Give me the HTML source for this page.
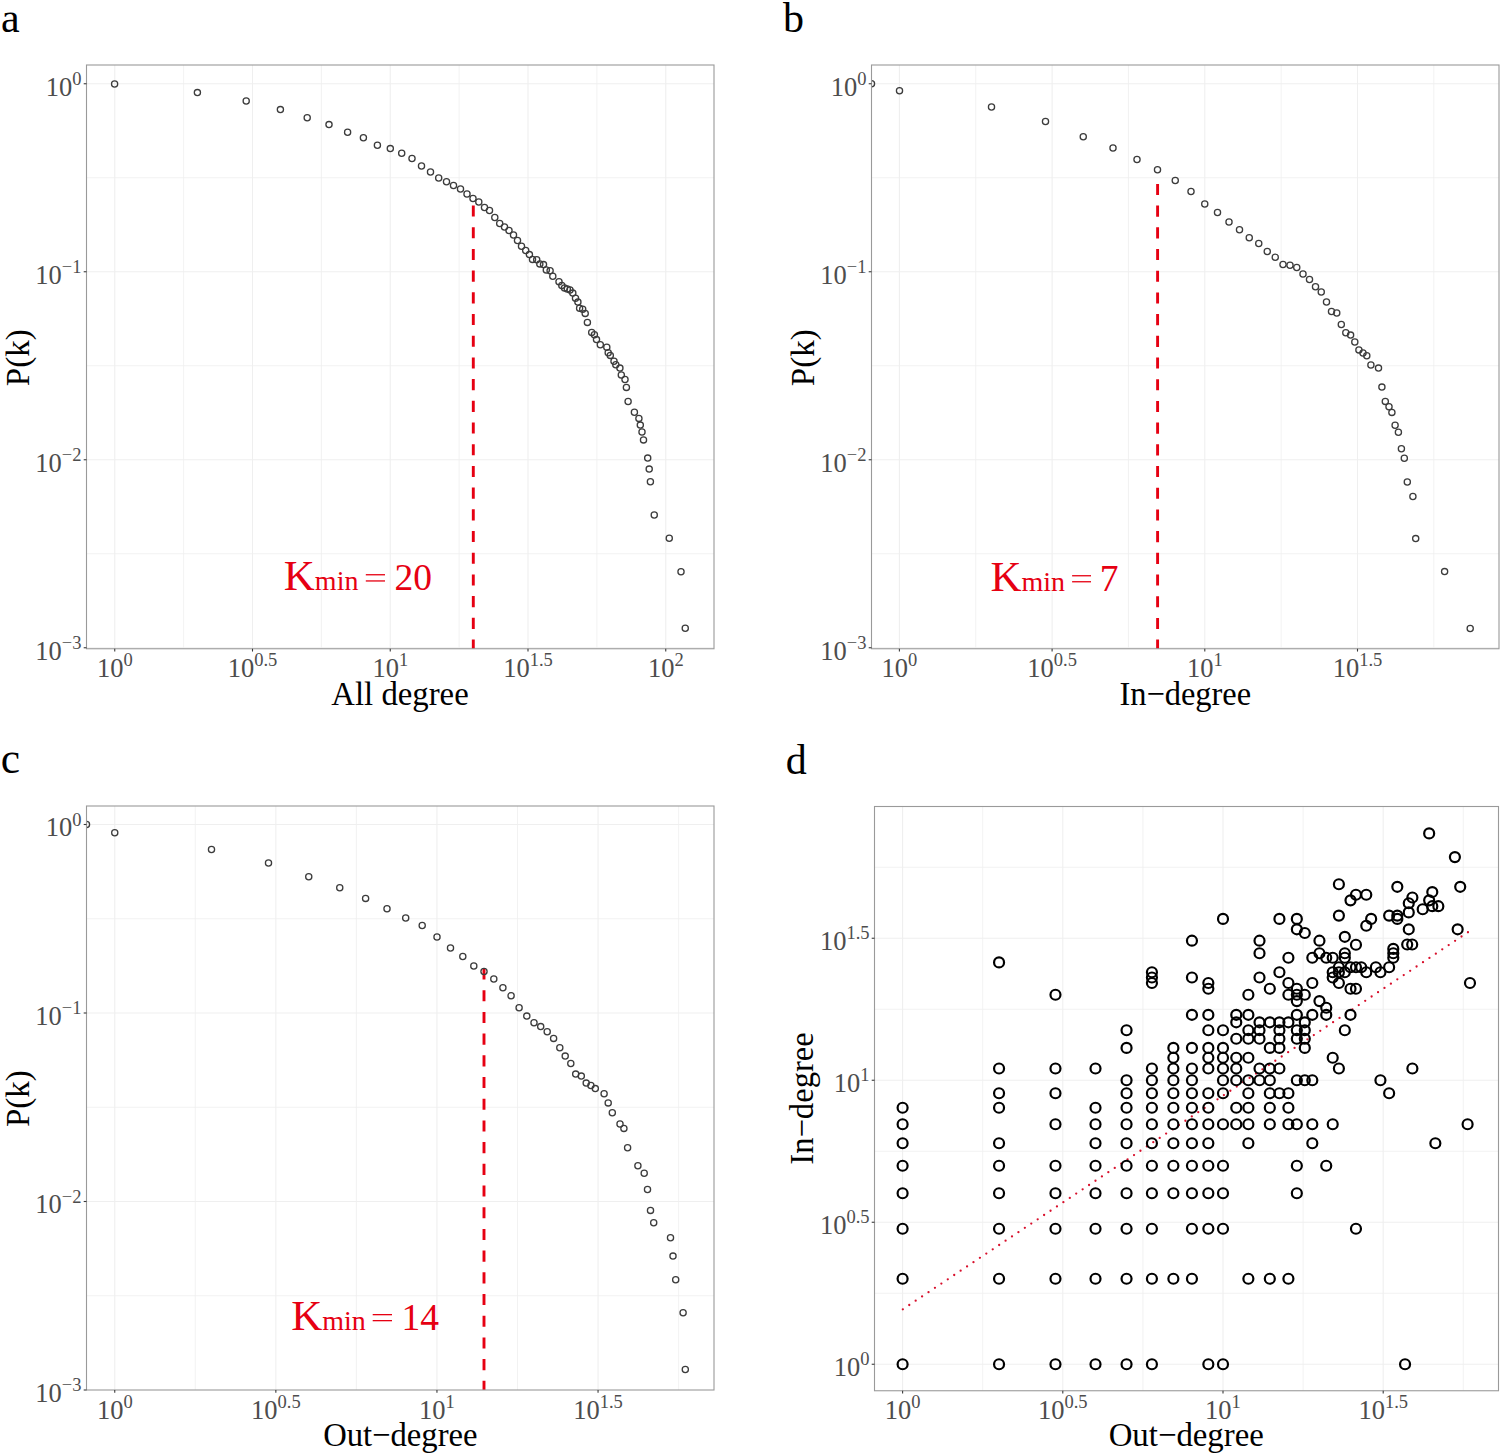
<!DOCTYPE html>
<html><head><meta charset="utf-8"><style>html,body{margin:0;padding:0;background:#fff;}svg{display:block;}</style></head><body>
<svg width="1500" height="1454" viewBox="0 0 1500 1454" font-family='"Liberation Serif", serif'>
<rect width="1500" height="1454" fill="#fff"/>
<clipPath id="ca"><rect x="86.5" y="65" width="627.5" height="583.75"/></clipPath>
<line x1="86.5" x2="714" y1="177.75" y2="177.75" stroke="#efefef" stroke-width="0.8"/>
<line x1="86.5" x2="714" y1="365.75" y2="365.75" stroke="#efefef" stroke-width="0.8"/>
<line x1="86.5" x2="714" y1="553.75" y2="553.75" stroke="#efefef" stroke-width="0.8"/>
<line y1="65" y2="648.75" x1="183.62" x2="183.62" stroke="#efefef" stroke-width="0.8"/>
<line y1="65" y2="648.75" x1="321.38" x2="321.38" stroke="#efefef" stroke-width="0.8"/>
<line y1="65" y2="648.75" x1="459.12" x2="459.12" stroke="#efefef" stroke-width="0.8"/>
<line y1="65" y2="648.75" x1="596.88" x2="596.88" stroke="#efefef" stroke-width="0.8"/>
<line x1="86.5" x2="714" y1="83.75" y2="83.75" stroke="#efefef" stroke-width="1.1"/>
<line x1="86.5" x2="714" y1="271.75" y2="271.75" stroke="#efefef" stroke-width="1.1"/>
<line x1="86.5" x2="714" y1="459.75" y2="459.75" stroke="#efefef" stroke-width="1.1"/>
<line x1="86.5" x2="714" y1="647.75" y2="647.75" stroke="#efefef" stroke-width="1.1"/>
<line y1="65" y2="648.75" x1="114.75" x2="114.75" stroke="#efefef" stroke-width="1.1"/>
<line y1="65" y2="648.75" x1="252.5" x2="252.5" stroke="#efefef" stroke-width="1.1"/>
<line y1="65" y2="648.75" x1="390.25" x2="390.25" stroke="#efefef" stroke-width="1.1"/>
<line y1="65" y2="648.75" x1="528" x2="528" stroke="#efefef" stroke-width="1.1"/>
<line y1="65" y2="648.75" x1="665.75" x2="665.75" stroke="#efefef" stroke-width="1.1"/>
<clipPath id="cb"><rect x="871.5" y="65" width="627.5" height="583.75"/></clipPath>
<line x1="871.5" x2="1499" y1="177.75" y2="177.75" stroke="#efefef" stroke-width="0.8"/>
<line x1="871.5" x2="1499" y1="365.75" y2="365.75" stroke="#efefef" stroke-width="0.8"/>
<line x1="871.5" x2="1499" y1="553.75" y2="553.75" stroke="#efefef" stroke-width="0.8"/>
<line y1="65" y2="648.75" x1="975.75" x2="975.75" stroke="#efefef" stroke-width="0.8"/>
<line y1="65" y2="648.75" x1="1128.45" x2="1128.45" stroke="#efefef" stroke-width="0.8"/>
<line y1="65" y2="648.75" x1="1281.15" x2="1281.15" stroke="#efefef" stroke-width="0.8"/>
<line y1="65" y2="648.75" x1="1433.85" x2="1433.85" stroke="#efefef" stroke-width="0.8"/>
<line x1="871.5" x2="1499" y1="83.75" y2="83.75" stroke="#efefef" stroke-width="1.1"/>
<line x1="871.5" x2="1499" y1="271.75" y2="271.75" stroke="#efefef" stroke-width="1.1"/>
<line x1="871.5" x2="1499" y1="459.75" y2="459.75" stroke="#efefef" stroke-width="1.1"/>
<line x1="871.5" x2="1499" y1="647.75" y2="647.75" stroke="#efefef" stroke-width="1.1"/>
<line y1="65" y2="648.75" x1="899.4" x2="899.4" stroke="#efefef" stroke-width="1.1"/>
<line y1="65" y2="648.75" x1="1052.1" x2="1052.1" stroke="#efefef" stroke-width="1.1"/>
<line y1="65" y2="648.75" x1="1204.8" x2="1204.8" stroke="#efefef" stroke-width="1.1"/>
<line y1="65" y2="648.75" x1="1357.5" x2="1357.5" stroke="#efefef" stroke-width="1.1"/>
<clipPath id="cc"><rect x="86.5" y="806" width="627.5" height="584"/></clipPath>
<line x1="86.5" x2="714" y1="918.75" y2="918.75" stroke="#efefef" stroke-width="0.8"/>
<line x1="86.5" x2="714" y1="1107.25" y2="1107.25" stroke="#efefef" stroke-width="0.8"/>
<line x1="86.5" x2="714" y1="1295.75" y2="1295.75" stroke="#efefef" stroke-width="0.8"/>
<line y1="806" y2="1390" x1="195.3" x2="195.3" stroke="#efefef" stroke-width="0.8"/>
<line y1="806" y2="1390" x1="356.4" x2="356.4" stroke="#efefef" stroke-width="0.8"/>
<line y1="806" y2="1390" x1="517.5" x2="517.5" stroke="#efefef" stroke-width="0.8"/>
<line y1="806" y2="1390" x1="678.6" x2="678.6" stroke="#efefef" stroke-width="0.8"/>
<line x1="86.5" x2="714" y1="824.5" y2="824.5" stroke="#efefef" stroke-width="1.1"/>
<line x1="86.5" x2="714" y1="1013" y2="1013" stroke="#efefef" stroke-width="1.1"/>
<line x1="86.5" x2="714" y1="1201.5" y2="1201.5" stroke="#efefef" stroke-width="1.1"/>
<line y1="806" y2="1390" x1="114.75" x2="114.75" stroke="#efefef" stroke-width="1.1"/>
<line y1="806" y2="1390" x1="275.85" x2="275.85" stroke="#efefef" stroke-width="1.1"/>
<line y1="806" y2="1390" x1="436.95" x2="436.95" stroke="#efefef" stroke-width="1.1"/>
<line y1="806" y2="1390" x1="598.05" x2="598.05" stroke="#efefef" stroke-width="1.1"/>
<clipPath id="cd"><rect x="874.5" y="806.5" width="624" height="584.25"/></clipPath>
<line x1="874.5" x2="1498.5" y1="1293.25" y2="1293.25" stroke="#efefef" stroke-width="0.8"/>
<line x1="874.5" x2="1498.5" y1="1151.25" y2="1151.25" stroke="#efefef" stroke-width="0.8"/>
<line x1="874.5" x2="1498.5" y1="1009.25" y2="1009.25" stroke="#efefef" stroke-width="0.8"/>
<line x1="874.5" x2="1498.5" y1="867.25" y2="867.25" stroke="#efefef" stroke-width="0.8"/>
<line y1="806.5" y2="1390.75" x1="982.7" x2="982.7" stroke="#efefef" stroke-width="0.8"/>
<line y1="806.5" y2="1390.75" x1="1142.9" x2="1142.9" stroke="#efefef" stroke-width="0.8"/>
<line y1="806.5" y2="1390.75" x1="1303.1" x2="1303.1" stroke="#efefef" stroke-width="0.8"/>
<line y1="806.5" y2="1390.75" x1="1463.3" x2="1463.3" stroke="#efefef" stroke-width="0.8"/>
<line x1="874.5" x2="1498.5" y1="1364.25" y2="1364.25" stroke="#efefef" stroke-width="1.1"/>
<line x1="874.5" x2="1498.5" y1="1222.25" y2="1222.25" stroke="#efefef" stroke-width="1.1"/>
<line x1="874.5" x2="1498.5" y1="1080.25" y2="1080.25" stroke="#efefef" stroke-width="1.1"/>
<line x1="874.5" x2="1498.5" y1="938.25" y2="938.25" stroke="#efefef" stroke-width="1.1"/>
<line y1="806.5" y2="1390.75" x1="902.6" x2="902.6" stroke="#efefef" stroke-width="1.1"/>
<line y1="806.5" y2="1390.75" x1="1062.8" x2="1062.8" stroke="#efefef" stroke-width="1.1"/>
<line y1="806.5" y2="1390.75" x1="1223" x2="1223" stroke="#efefef" stroke-width="1.1"/>
<line y1="806.5" y2="1390.75" x1="1383.2" x2="1383.2" stroke="#efefef" stroke-width="1.1"/>
<line x1="473.3" x2="473.3" y1="205.5" y2="648.75" stroke="#e60012" stroke-width="2.9" stroke-dasharray="11.1 10.6"/>
<line x1="1157.6" x2="1157.6" y1="183.9" y2="648.75" stroke="#e60012" stroke-width="2.9" stroke-dasharray="11.1 10.6"/>
<line x1="484" x2="484" y1="968.5" y2="1390" stroke="#e60012" stroke-width="2.9" stroke-dasharray="11.1 10.6"/>
<g clip-path="url(#ca)" fill="none" stroke="#3c3c3c" stroke-width="1.3"><circle cx="114.6" cy="84" r="3.1"/><circle cx="197.4" cy="92.6" r="3.1"/><circle cx="246.2" cy="101" r="3.1"/><circle cx="280.4" cy="109.6" r="3.1"/><circle cx="307.2" cy="117.8" r="3.1"/><circle cx="329" cy="124.6" r="3.1"/><circle cx="347.6" cy="132.2" r="3.1"/><circle cx="363.4" cy="137.8" r="3.1"/><circle cx="377.4" cy="145.2" r="3.1"/><circle cx="390.3" cy="148.6" r="3.1"/><circle cx="401.7" cy="153.2" r="3.1"/><circle cx="412" cy="158.5" r="3.1"/><circle cx="421.5" cy="166" r="3.1"/><circle cx="430.5" cy="172" r="3.1"/><circle cx="438.7" cy="178" r="3.1"/><circle cx="446.5" cy="181.8" r="3.1"/><circle cx="453.5" cy="185.5" r="3.1"/><circle cx="460.5" cy="189" r="3.1"/><circle cx="467" cy="194" r="3.1"/><circle cx="473" cy="198.5" r="3.1"/><circle cx="478.8" cy="202" r="3.1"/><circle cx="484.5" cy="207.5" r="3.1"/><circle cx="489.5" cy="210.5" r="3.1"/><circle cx="494.8" cy="217.5" r="3.1"/><circle cx="499.7" cy="223.5" r="3.1"/><circle cx="504.5" cy="227" r="3.1"/><circle cx="509" cy="230.5" r="3.1"/><circle cx="513.5" cy="235" r="3.1"/><circle cx="517.5" cy="240.5" r="3.1"/><circle cx="521.5" cy="246.3" r="3.1"/><circle cx="525.7" cy="250.5" r="3.1"/><circle cx="529.4" cy="254.6" r="3.1"/><circle cx="532.5" cy="259.4" r="3.1"/><circle cx="536.7" cy="259.8" r="3.1"/><circle cx="539.8" cy="263.9" r="3.1"/><circle cx="543.5" cy="264.6" r="3.1"/><circle cx="546.3" cy="270" r="3.1"/><circle cx="550.1" cy="270.8" r="3.1"/><circle cx="552.8" cy="276.3" r="3.1"/><circle cx="559" cy="281.8" r="3.1"/><circle cx="561.8" cy="285.5" r="3.1"/><circle cx="564.5" cy="288" r="3.1"/><circle cx="567.3" cy="289" r="3.1"/><circle cx="570" cy="290" r="3.1"/><circle cx="572.8" cy="293.1" r="3.1"/><circle cx="575.5" cy="298.3" r="3.1"/><circle cx="577.9" cy="302.1" r="3.1"/><circle cx="579.6" cy="308.2" r="3.1"/><circle cx="582.7" cy="309.3" r="3.1"/><circle cx="585.2" cy="313.4" r="3.1"/><circle cx="587.4" cy="322.4" r="3.1"/><circle cx="591.7" cy="332.4" r="3.1"/><circle cx="594.4" cy="334.8" r="3.1"/><circle cx="596.5" cy="339.6" r="3.1"/><circle cx="600.3" cy="344.8" r="3.1"/><circle cx="606.8" cy="347.2" r="3.1"/><circle cx="608.2" cy="352.7" r="3.1"/><circle cx="610.3" cy="355.4" r="3.1"/><circle cx="614" cy="361.3" r="3.1"/><circle cx="615.8" cy="364.7" r="3.1"/><circle cx="619.9" cy="368.1" r="3.1"/><circle cx="621.3" cy="375" r="3.1"/><circle cx="625" cy="379.5" r="3.1"/><circle cx="626.4" cy="387.4" r="3.1"/><circle cx="628.1" cy="401.5" r="3.1"/><circle cx="634.4" cy="412.3" r="3.1"/><circle cx="638.9" cy="418.4" r="3.1"/><circle cx="640.3" cy="425.1" r="3.1"/><circle cx="642" cy="432" r="3.1"/><circle cx="643.5" cy="439.9" r="3.1"/><circle cx="647.7" cy="458.1" r="3.1"/><circle cx="649.2" cy="469.1" r="3.1"/><circle cx="650.4" cy="481.8" r="3.1"/><circle cx="654.25" cy="515" r="3.1"/><circle cx="669.25" cy="538.25" r="3.1"/><circle cx="681" cy="571.75" r="3.1"/><circle cx="685.25" cy="628.25" r="3.1"/></g>
<g clip-path="url(#cb)" fill="none" stroke="#3c3c3c" stroke-width="1.3"><circle cx="871.5" cy="83.75" r="3.1"/><circle cx="899.5" cy="90.75" r="3.1"/><circle cx="991.5" cy="107" r="3.1"/><circle cx="1045.5" cy="121.5" r="3.1"/><circle cx="1083.25" cy="136.75" r="3.1"/><circle cx="1113" cy="148" r="3.1"/><circle cx="1137" cy="159.5" r="3.1"/><circle cx="1157.5" cy="169.75" r="3.1"/><circle cx="1175.25" cy="180.5" r="3.1"/><circle cx="1191" cy="191.5" r="3.1"/><circle cx="1204.75" cy="204" r="3.1"/><circle cx="1217.5" cy="212.5" r="3.1"/><circle cx="1229" cy="222" r="3.1"/><circle cx="1239.5" cy="229.75" r="3.1"/><circle cx="1249.25" cy="237.75" r="3.1"/><circle cx="1258.75" cy="243.5" r="3.1"/><circle cx="1267.25" cy="251.5" r="3.1"/><circle cx="1275.25" cy="257.25" r="3.1"/><circle cx="1283" cy="264.5" r="3.1"/><circle cx="1290" cy="265.25" r="3.1"/><circle cx="1296.75" cy="267.5" r="3.1"/><circle cx="1303" cy="274" r="3.1"/><circle cx="1309.5" cy="279.5" r="3.1"/><circle cx="1315.5" cy="286.75" r="3.1"/><circle cx="1321.25" cy="292" r="3.1"/><circle cx="1326.5" cy="302" r="3.1"/><circle cx="1331.5" cy="311.5" r="3.1"/><circle cx="1336.75" cy="313" r="3.1"/><circle cx="1341.3" cy="324.5" r="3.1"/><circle cx="1345.8" cy="332.7" r="3.1"/><circle cx="1350.6" cy="335.1" r="3.1"/><circle cx="1354.8" cy="342" r="3.1"/><circle cx="1358.9" cy="349.9" r="3.1"/><circle cx="1363" cy="353" r="3.1"/><circle cx="1366.8" cy="355.8" r="3.1"/><circle cx="1370.9" cy="365" r="3.1"/><circle cx="1378.5" cy="368.1" r="3.1"/><circle cx="1381.9" cy="387.1" r="3.1"/><circle cx="1385.3" cy="401.4" r="3.1"/><circle cx="1389" cy="406.8" r="3.1"/><circle cx="1391.9" cy="412.4" r="3.1"/><circle cx="1395.1" cy="425.2" r="3.1"/><circle cx="1398.4" cy="432.2" r="3.1"/><circle cx="1401.4" cy="448.7" r="3.1"/><circle cx="1404.3" cy="458.3" r="3.1"/><circle cx="1407.3" cy="482" r="3.1"/><circle cx="1412.9" cy="496.5" r="3.1"/><circle cx="1415.7" cy="538.6" r="3.1"/><circle cx="1444.6" cy="571.6" r="3.1"/><circle cx="1470.2" cy="628.5" r="3.1"/></g>
<g clip-path="url(#cc)" fill="none" stroke="#3c3c3c" stroke-width="1.3"><circle cx="86.5" cy="824.5" r="3.1"/><circle cx="114.75" cy="832.75" r="3.1"/><circle cx="211.5" cy="849.5" r="3.1"/><circle cx="268.5" cy="863" r="3.1"/><circle cx="308.75" cy="876.75" r="3.1"/><circle cx="339.75" cy="887.75" r="3.1"/><circle cx="365.6" cy="898.4" r="3.1"/><circle cx="387" cy="908.7" r="3.1"/><circle cx="405.7" cy="918" r="3.1"/><circle cx="422.2" cy="925.5" r="3.1"/><circle cx="437" cy="937" r="3.1"/><circle cx="450.5" cy="948" r="3.1"/><circle cx="462.8" cy="956.5" r="3.1"/><circle cx="473.8" cy="966" r="3.1"/><circle cx="484" cy="971.5" r="3.1"/><circle cx="493.8" cy="979" r="3.1"/><circle cx="502.9" cy="987.8" r="3.1"/><circle cx="511.1" cy="995.8" r="3.1"/><circle cx="519.1" cy="1007.8" r="3.1"/><circle cx="526.8" cy="1016.1" r="3.1"/><circle cx="534" cy="1022.7" r="3.1"/><circle cx="540.7" cy="1026.6" r="3.1"/><circle cx="547.2" cy="1031.8" r="3.1"/><circle cx="553.6" cy="1038.4" r="3.1"/><circle cx="559.8" cy="1047.7" r="3.1"/><circle cx="565.2" cy="1056.1" r="3.1"/><circle cx="570.8" cy="1063.5" r="3.1"/><circle cx="575.7" cy="1074.1" r="3.1"/><circle cx="581.3" cy="1076.1" r="3.1"/><circle cx="586.2" cy="1083.1" r="3.1"/><circle cx="590.9" cy="1085.5" r="3.1"/><circle cx="595.3" cy="1088.6" r="3.1"/><circle cx="604.1" cy="1093.8" r="3.1"/><circle cx="608.2" cy="1102.9" r="3.1"/><circle cx="612.3" cy="1112.8" r="3.1"/><circle cx="620" cy="1124" r="3.1"/><circle cx="623.9" cy="1128.4" r="3.1"/><circle cx="627.6" cy="1147.7" r="3.1"/><circle cx="637.9" cy="1165.8" r="3.1"/><circle cx="644.2" cy="1173.3" r="3.1"/><circle cx="647.5" cy="1189.5" r="3.1"/><circle cx="650.5" cy="1210.4" r="3.1"/><circle cx="653.7" cy="1222.8" r="3.1"/><circle cx="670.5" cy="1237.7" r="3.1"/><circle cx="673" cy="1256.1" r="3.1"/><circle cx="675.7" cy="1279.7" r="3.1"/><circle cx="683.1" cy="1312.8" r="3.1"/><circle cx="685.3" cy="1369.5" r="3.1"/></g>
<line x1="902.5" y1="1309.5" x2="1468" y2="932.2" stroke="#d8102c" stroke-width="2.3" stroke-linecap="round" stroke-dasharray="0 7.72" stroke-dashoffset="-0.4"/>
<g clip-path="url(#cd)" fill="none" stroke="#000" stroke-width="2.2"><circle cx="902.6" cy="1364.25" r="5.0"/><circle cx="999.05" cy="1364.25" r="5.0"/><circle cx="1055.47" cy="1364.25" r="5.0"/><circle cx="1095.5" cy="1364.25" r="5.0"/><circle cx="1126.55" cy="1364.25" r="5.0"/><circle cx="1151.92" cy="1364.25" r="5.0"/><circle cx="1208.34" cy="1364.25" r="5.0"/><circle cx="1223" cy="1364.25" r="5.0"/><circle cx="1405.05" cy="1364.25" r="5.0"/><circle cx="902.6" cy="1278.76" r="5.0"/><circle cx="999.05" cy="1278.76" r="5.0"/><circle cx="1055.47" cy="1278.76" r="5.0"/><circle cx="1095.5" cy="1278.76" r="5.0"/><circle cx="1126.55" cy="1278.76" r="5.0"/><circle cx="1151.92" cy="1278.76" r="5.0"/><circle cx="1173.37" cy="1278.76" r="5.0"/><circle cx="1191.95" cy="1278.76" r="5.0"/><circle cx="1248.37" cy="1278.76" r="5.0"/><circle cx="1269.82" cy="1278.76" r="5.0"/><circle cx="1288.4" cy="1278.76" r="5.0"/><circle cx="902.6" cy="1228.75" r="5.0"/><circle cx="999.05" cy="1228.75" r="5.0"/><circle cx="1055.47" cy="1228.75" r="5.0"/><circle cx="1095.5" cy="1228.75" r="5.0"/><circle cx="1126.55" cy="1228.75" r="5.0"/><circle cx="1151.92" cy="1228.75" r="5.0"/><circle cx="1191.95" cy="1228.75" r="5.0"/><circle cx="1208.34" cy="1228.75" r="5.0"/><circle cx="1223" cy="1228.75" r="5.0"/><circle cx="1355.96" cy="1228.75" r="5.0"/><circle cx="902.6" cy="1193.26" r="5.0"/><circle cx="999.05" cy="1193.26" r="5.0"/><circle cx="1055.47" cy="1193.26" r="5.0"/><circle cx="1095.5" cy="1193.26" r="5.0"/><circle cx="1126.55" cy="1193.26" r="5.0"/><circle cx="1151.92" cy="1193.26" r="5.0"/><circle cx="1173.37" cy="1193.26" r="5.0"/><circle cx="1191.95" cy="1193.26" r="5.0"/><circle cx="1208.34" cy="1193.26" r="5.0"/><circle cx="1223" cy="1193.26" r="5.0"/><circle cx="1296.84" cy="1193.26" r="5.0"/><circle cx="902.6" cy="1165.74" r="5.0"/><circle cx="999.05" cy="1165.74" r="5.0"/><circle cx="1055.47" cy="1165.74" r="5.0"/><circle cx="1095.5" cy="1165.74" r="5.0"/><circle cx="1126.55" cy="1165.74" r="5.0"/><circle cx="1151.92" cy="1165.74" r="5.0"/><circle cx="1173.37" cy="1165.74" r="5.0"/><circle cx="1191.95" cy="1165.74" r="5.0"/><circle cx="1208.34" cy="1165.74" r="5.0"/><circle cx="1223" cy="1165.74" r="5.0"/><circle cx="1296.84" cy="1165.74" r="5.0"/><circle cx="1326.24" cy="1165.74" r="5.0"/><circle cx="902.6" cy="1143.26" r="5.0"/><circle cx="999.05" cy="1143.26" r="5.0"/><circle cx="1095.5" cy="1143.26" r="5.0"/><circle cx="1126.55" cy="1143.26" r="5.0"/><circle cx="1151.92" cy="1143.26" r="5.0"/><circle cx="1173.37" cy="1143.26" r="5.0"/><circle cx="1191.95" cy="1143.26" r="5.0"/><circle cx="1208.34" cy="1143.26" r="5.0"/><circle cx="1248.37" cy="1143.26" r="5.0"/><circle cx="1312.31" cy="1143.26" r="5.0"/><circle cx="1435.35" cy="1143.26" r="5.0"/><circle cx="902.6" cy="1124.24" r="5.0"/><circle cx="1055.47" cy="1124.24" r="5.0"/><circle cx="1095.5" cy="1124.24" r="5.0"/><circle cx="1126.55" cy="1124.24" r="5.0"/><circle cx="1151.92" cy="1124.24" r="5.0"/><circle cx="1173.37" cy="1124.24" r="5.0"/><circle cx="1191.95" cy="1124.24" r="5.0"/><circle cx="1208.34" cy="1124.24" r="5.0"/><circle cx="1223" cy="1124.24" r="5.0"/><circle cx="1236.26" cy="1124.24" r="5.0"/><circle cx="1248.37" cy="1124.24" r="5.0"/><circle cx="1269.82" cy="1124.24" r="5.0"/><circle cx="1288.4" cy="1124.24" r="5.0"/><circle cx="1296.84" cy="1124.24" r="5.0"/><circle cx="1312.31" cy="1124.24" r="5.0"/><circle cx="1332.71" cy="1124.24" r="5.0"/><circle cx="1467.6" cy="1124.24" r="5.0"/><circle cx="902.6" cy="1107.77" r="5.0"/><circle cx="999.05" cy="1107.77" r="5.0"/><circle cx="1095.5" cy="1107.77" r="5.0"/><circle cx="1126.55" cy="1107.77" r="5.0"/><circle cx="1151.92" cy="1107.77" r="5.0"/><circle cx="1173.37" cy="1107.77" r="5.0"/><circle cx="1191.95" cy="1107.77" r="5.0"/><circle cx="1208.34" cy="1107.77" r="5.0"/><circle cx="1236.26" cy="1107.77" r="5.0"/><circle cx="1248.37" cy="1107.77" r="5.0"/><circle cx="1269.82" cy="1107.77" r="5.0"/><circle cx="1288.4" cy="1107.77" r="5.0"/><circle cx="999.05" cy="1093.25" r="5.0"/><circle cx="1055.47" cy="1093.25" r="5.0"/><circle cx="1126.55" cy="1093.25" r="5.0"/><circle cx="1151.92" cy="1093.25" r="5.0"/><circle cx="1173.37" cy="1093.25" r="5.0"/><circle cx="1191.95" cy="1093.25" r="5.0"/><circle cx="1208.34" cy="1093.25" r="5.0"/><circle cx="1223" cy="1093.25" r="5.0"/><circle cx="1248.37" cy="1093.25" r="5.0"/><circle cx="1269.82" cy="1093.25" r="5.0"/><circle cx="1279.42" cy="1093.25" r="5.0"/><circle cx="1288.4" cy="1093.25" r="5.0"/><circle cx="1389.13" cy="1093.25" r="5.0"/><circle cx="1126.55" cy="1080.25" r="5.0"/><circle cx="1151.92" cy="1080.25" r="5.0"/><circle cx="1173.37" cy="1080.25" r="5.0"/><circle cx="1191.95" cy="1080.25" r="5.0"/><circle cx="1223" cy="1080.25" r="5.0"/><circle cx="1236.26" cy="1080.25" r="5.0"/><circle cx="1248.37" cy="1080.25" r="5.0"/><circle cx="1259.51" cy="1080.25" r="5.0"/><circle cx="1269.82" cy="1080.25" r="5.0"/><circle cx="1296.84" cy="1080.25" r="5.0"/><circle cx="1304.79" cy="1080.25" r="5.0"/><circle cx="1312.31" cy="1080.25" r="5.0"/><circle cx="1380.43" cy="1080.25" r="5.0"/><circle cx="999.05" cy="1068.49" r="5.0"/><circle cx="1055.47" cy="1068.49" r="5.0"/><circle cx="1095.5" cy="1068.49" r="5.0"/><circle cx="1151.92" cy="1068.49" r="5.0"/><circle cx="1173.37" cy="1068.49" r="5.0"/><circle cx="1191.95" cy="1068.49" r="5.0"/><circle cx="1208.34" cy="1068.49" r="5.0"/><circle cx="1223" cy="1068.49" r="5.0"/><circle cx="1236.26" cy="1068.49" r="5.0"/><circle cx="1259.51" cy="1068.49" r="5.0"/><circle cx="1269.82" cy="1068.49" r="5.0"/><circle cx="1279.42" cy="1068.49" r="5.0"/><circle cx="1338.9" cy="1068.49" r="5.0"/><circle cx="1412.38" cy="1068.49" r="5.0"/><circle cx="1173.37" cy="1057.76" r="5.0"/><circle cx="1208.34" cy="1057.76" r="5.0"/><circle cx="1223" cy="1057.76" r="5.0"/><circle cx="1236.26" cy="1057.76" r="5.0"/><circle cx="1248.37" cy="1057.76" r="5.0"/><circle cx="1332.71" cy="1057.76" r="5.0"/><circle cx="1126.55" cy="1047.89" r="5.0"/><circle cx="1173.37" cy="1047.89" r="5.0"/><circle cx="1191.95" cy="1047.89" r="5.0"/><circle cx="1208.34" cy="1047.89" r="5.0"/><circle cx="1223" cy="1047.89" r="5.0"/><circle cx="1269.82" cy="1047.89" r="5.0"/><circle cx="1279.42" cy="1047.89" r="5.0"/><circle cx="1304.79" cy="1047.89" r="5.0"/><circle cx="1236.26" cy="1038.75" r="5.0"/><circle cx="1248.37" cy="1038.75" r="5.0"/><circle cx="1259.51" cy="1038.75" r="5.0"/><circle cx="1279.42" cy="1038.75" r="5.0"/><circle cx="1296.84" cy="1038.75" r="5.0"/><circle cx="1304.79" cy="1038.75" r="5.0"/><circle cx="1126.55" cy="1030.24" r="5.0"/><circle cx="1208.34" cy="1030.24" r="5.0"/><circle cx="1223" cy="1030.24" r="5.0"/><circle cx="1248.37" cy="1030.24" r="5.0"/><circle cx="1259.51" cy="1030.24" r="5.0"/><circle cx="1279.42" cy="1030.24" r="5.0"/><circle cx="1296.84" cy="1030.24" r="5.0"/><circle cx="1304.79" cy="1030.24" r="5.0"/><circle cx="1344.82" cy="1030.24" r="5.0"/><circle cx="1236.26" cy="1022.28" r="5.0"/><circle cx="1259.51" cy="1022.28" r="5.0"/><circle cx="1269.82" cy="1022.28" r="5.0"/><circle cx="1279.42" cy="1022.28" r="5.0"/><circle cx="1288.4" cy="1022.28" r="5.0"/><circle cx="1304.79" cy="1022.28" r="5.0"/><circle cx="1191.95" cy="1014.8" r="5.0"/><circle cx="1208.34" cy="1014.8" r="5.0"/><circle cx="1236.26" cy="1014.8" r="5.0"/><circle cx="1248.37" cy="1014.8" r="5.0"/><circle cx="1296.84" cy="1014.8" r="5.0"/><circle cx="1312.31" cy="1014.8" r="5.0"/><circle cx="1326.24" cy="1014.8" r="5.0"/><circle cx="1350.5" cy="1014.8" r="5.0"/><circle cx="1326.24" cy="1007.75" r="5.0"/><circle cx="1296.84" cy="1001.08" r="5.0"/><circle cx="1319.45" cy="1001.08" r="5.0"/><circle cx="1055.47" cy="994.76" r="5.0"/><circle cx="1248.37" cy="994.76" r="5.0"/><circle cx="1288.4" cy="994.76" r="5.0"/><circle cx="1296.84" cy="994.76" r="5.0"/><circle cx="1304.79" cy="994.76" r="5.0"/><circle cx="1208.34" cy="988.74" r="5.0"/><circle cx="1269.82" cy="988.74" r="5.0"/><circle cx="1296.84" cy="988.74" r="5.0"/><circle cx="1350.5" cy="988.74" r="5.0"/><circle cx="1355.96" cy="988.74" r="5.0"/><circle cx="1151.92" cy="983" r="5.0"/><circle cx="1208.34" cy="983" r="5.0"/><circle cx="1288.4" cy="983" r="5.0"/><circle cx="1312.31" cy="983" r="5.0"/><circle cx="1338.9" cy="983" r="5.0"/><circle cx="1469.98" cy="983" r="5.0"/><circle cx="1151.92" cy="977.52" r="5.0"/><circle cx="1191.95" cy="977.52" r="5.0"/><circle cx="1259.51" cy="977.52" r="5.0"/><circle cx="1332.71" cy="977.52" r="5.0"/><circle cx="1151.92" cy="972.27" r="5.0"/><circle cx="1279.42" cy="972.27" r="5.0"/><circle cx="1332.71" cy="972.27" r="5.0"/><circle cx="1338.9" cy="972.27" r="5.0"/><circle cx="1344.82" cy="972.27" r="5.0"/><circle cx="1366.27" cy="972.27" r="5.0"/><circle cx="1380.43" cy="972.27" r="5.0"/><circle cx="1338.9" cy="967.24" r="5.0"/><circle cx="1350.5" cy="967.24" r="5.0"/><circle cx="1355.96" cy="967.24" r="5.0"/><circle cx="1361.21" cy="967.24" r="5.0"/><circle cx="1375.87" cy="967.24" r="5.0"/><circle cx="1389.13" cy="967.24" r="5.0"/><circle cx="999.05" cy="962.4" r="5.0"/><circle cx="1288.4" cy="957.74" r="5.0"/><circle cx="1312.31" cy="957.74" r="5.0"/><circle cx="1326.24" cy="957.74" r="5.0"/><circle cx="1332.71" cy="957.74" r="5.0"/><circle cx="1344.82" cy="957.74" r="5.0"/><circle cx="1393.29" cy="957.74" r="5.0"/><circle cx="1259.51" cy="953.26" r="5.0"/><circle cx="1319.45" cy="953.26" r="5.0"/><circle cx="1344.82" cy="953.26" r="5.0"/><circle cx="1393.29" cy="953.26" r="5.0"/><circle cx="1393.29" cy="948.93" r="5.0"/><circle cx="1355.96" cy="944.75" r="5.0"/><circle cx="1191.95" cy="940.7" r="5.0"/><circle cx="1259.51" cy="940.7" r="5.0"/><circle cx="1319.45" cy="940.7" r="5.0"/><circle cx="1344.82" cy="936.79" r="5.0"/><circle cx="1304.79" cy="932.99" r="5.0"/><circle cx="1296.84" cy="929.31" r="5.0"/><circle cx="1408.76" cy="929.31" r="5.0"/><circle cx="1457.66" cy="929.31" r="5.0"/><circle cx="1366.27" cy="925.73" r="5.0"/><circle cx="1223" cy="918.88" r="5.0"/><circle cx="1279.42" cy="918.88" r="5.0"/><circle cx="1296.84" cy="918.88" r="5.0"/><circle cx="1371.15" cy="918.88" r="5.0"/><circle cx="1397.32" cy="918.88" r="5.0"/><circle cx="1338.9" cy="915.59" r="5.0"/><circle cx="1389.13" cy="915.59" r="5.0"/><circle cx="1397.32" cy="915.59" r="5.0"/><circle cx="1408.76" cy="912.39" r="5.0"/><circle cx="1422.69" cy="909.26" r="5.0"/><circle cx="1432.29" cy="906.22" r="5.0"/><circle cx="1438.34" cy="906.22" r="5.0"/><circle cx="1408.76" cy="903.25" r="5.0"/><circle cx="1350.5" cy="900.34" r="5.0"/><circle cx="1429.16" cy="900.34" r="5.0"/><circle cx="1412.38" cy="897.51" r="5.0"/><circle cx="1355.96" cy="894.74" r="5.0"/><circle cx="1366.27" cy="894.74" r="5.0"/><circle cx="1432.29" cy="892.03" r="5.0"/><circle cx="1397.32" cy="886.78" r="5.0"/><circle cx="1460.21" cy="886.78" r="5.0"/><circle cx="1338.9" cy="884.23" r="5.0"/><circle cx="1429.16" cy="833.39" r="5.0"/><circle cx="1407.2" cy="944.5" r="5.0"/><circle cx="1412.2" cy="944.5" r="5.0"/><circle cx="1454.9" cy="857.1" r="5.0"/></g>
<rect x="86.5" y="65" width="627.5" height="583.75" fill="none" stroke="#9a9a9a" stroke-width="1.1"/>
<line x1="114.75" x2="114.75" y1="648.75" y2="651.55" stroke="#3a3a3a" stroke-width="1.1"/>
<line x1="252.5" x2="252.5" y1="648.75" y2="651.55" stroke="#3a3a3a" stroke-width="1.1"/>
<line x1="390.25" x2="390.25" y1="648.75" y2="651.55" stroke="#3a3a3a" stroke-width="1.1"/>
<line x1="528" x2="528" y1="648.75" y2="651.55" stroke="#3a3a3a" stroke-width="1.1"/>
<line x1="665.75" x2="665.75" y1="648.75" y2="651.55" stroke="#3a3a3a" stroke-width="1.1"/>
<line y1="83.75" y2="83.75" x1="83.7" x2="86.5" stroke="#3a3a3a" stroke-width="1.1"/>
<line y1="271.75" y2="271.75" x1="83.7" x2="86.5" stroke="#3a3a3a" stroke-width="1.1"/>
<line y1="459.75" y2="459.75" x1="83.7" x2="86.5" stroke="#3a3a3a" stroke-width="1.1"/>
<line y1="647.75" y2="647.75" x1="83.7" x2="86.5" stroke="#3a3a3a" stroke-width="1.1"/>
<rect x="871.5" y="65" width="627.5" height="583.75" fill="none" stroke="#9a9a9a" stroke-width="1.1"/>
<line x1="899.4" x2="899.4" y1="648.75" y2="651.55" stroke="#3a3a3a" stroke-width="1.1"/>
<line x1="1052.1" x2="1052.1" y1="648.75" y2="651.55" stroke="#3a3a3a" stroke-width="1.1"/>
<line x1="1204.8" x2="1204.8" y1="648.75" y2="651.55" stroke="#3a3a3a" stroke-width="1.1"/>
<line x1="1357.5" x2="1357.5" y1="648.75" y2="651.55" stroke="#3a3a3a" stroke-width="1.1"/>
<line y1="83.75" y2="83.75" x1="868.7" x2="871.5" stroke="#3a3a3a" stroke-width="1.1"/>
<line y1="271.75" y2="271.75" x1="868.7" x2="871.5" stroke="#3a3a3a" stroke-width="1.1"/>
<line y1="459.75" y2="459.75" x1="868.7" x2="871.5" stroke="#3a3a3a" stroke-width="1.1"/>
<line y1="647.75" y2="647.75" x1="868.7" x2="871.5" stroke="#3a3a3a" stroke-width="1.1"/>
<rect x="86.5" y="806" width="627.5" height="584" fill="none" stroke="#9a9a9a" stroke-width="1.1"/>
<line x1="114.75" x2="114.75" y1="1390" y2="1392.8" stroke="#3a3a3a" stroke-width="1.1"/>
<line x1="275.85" x2="275.85" y1="1390" y2="1392.8" stroke="#3a3a3a" stroke-width="1.1"/>
<line x1="436.95" x2="436.95" y1="1390" y2="1392.8" stroke="#3a3a3a" stroke-width="1.1"/>
<line x1="598.05" x2="598.05" y1="1390" y2="1392.8" stroke="#3a3a3a" stroke-width="1.1"/>
<line y1="824.5" y2="824.5" x1="83.7" x2="86.5" stroke="#3a3a3a" stroke-width="1.1"/>
<line y1="1013" y2="1013" x1="83.7" x2="86.5" stroke="#3a3a3a" stroke-width="1.1"/>
<line y1="1201.5" y2="1201.5" x1="83.7" x2="86.5" stroke="#3a3a3a" stroke-width="1.1"/>
<line y1="1390" y2="1390" x1="83.7" x2="86.5" stroke="#3a3a3a" stroke-width="1.1"/>
<rect x="874.5" y="806.5" width="624" height="584.25" fill="none" stroke="#9a9a9a" stroke-width="1.1"/>
<line x1="902.6" x2="902.6" y1="1390.75" y2="1393.55" stroke="#3a3a3a" stroke-width="1.1"/>
<line x1="1062.8" x2="1062.8" y1="1390.75" y2="1393.55" stroke="#3a3a3a" stroke-width="1.1"/>
<line x1="1223" x2="1223" y1="1390.75" y2="1393.55" stroke="#3a3a3a" stroke-width="1.1"/>
<line x1="1383.2" x2="1383.2" y1="1390.75" y2="1393.55" stroke="#3a3a3a" stroke-width="1.1"/>
<line y1="1364.25" y2="1364.25" x1="871.7" x2="874.5" stroke="#3a3a3a" stroke-width="1.1"/>
<line y1="1222.25" y2="1222.25" x1="871.7" x2="874.5" stroke="#3a3a3a" stroke-width="1.1"/>
<line y1="1080.25" y2="1080.25" x1="871.7" x2="874.5" stroke="#3a3a3a" stroke-width="1.1"/>
<line y1="938.25" y2="938.25" x1="871.7" x2="874.5" stroke="#3a3a3a" stroke-width="1.1"/>
<text x="72.25" y="95.65" font-size="26.5" text-anchor="end" fill="#4d4d4d">10</text>
<text x="72.25" y="84.95" font-size="18.5" fill="#4d4d4d">0</text>
<text x="61.82" y="283.65" font-size="26.5" text-anchor="end" fill="#4d4d4d">10</text>
<text x="61.82" y="272.95" font-size="18.5" fill="#4d4d4d">−1</text>
<text x="61.82" y="471.65" font-size="26.5" text-anchor="end" fill="#4d4d4d">10</text>
<text x="61.82" y="460.95" font-size="18.5" fill="#4d4d4d">−2</text>
<text x="61.82" y="659.65" font-size="26.5" text-anchor="end" fill="#4d4d4d">10</text>
<text x="61.82" y="648.95" font-size="18.5" fill="#4d4d4d">−3</text>
<text x="857.25" y="95.65" font-size="26.5" text-anchor="end" fill="#4d4d4d">10</text>
<text x="857.25" y="84.95" font-size="18.5" fill="#4d4d4d">0</text>
<text x="846.82" y="283.65" font-size="26.5" text-anchor="end" fill="#4d4d4d">10</text>
<text x="846.82" y="272.95" font-size="18.5" fill="#4d4d4d">−1</text>
<text x="846.82" y="471.65" font-size="26.5" text-anchor="end" fill="#4d4d4d">10</text>
<text x="846.82" y="460.95" font-size="18.5" fill="#4d4d4d">−2</text>
<text x="846.82" y="659.65" font-size="26.5" text-anchor="end" fill="#4d4d4d">10</text>
<text x="846.82" y="648.95" font-size="18.5" fill="#4d4d4d">−3</text>
<text x="72.25" y="836.4" font-size="26.5" text-anchor="end" fill="#4d4d4d">10</text>
<text x="72.25" y="825.7" font-size="18.5" fill="#4d4d4d">0</text>
<text x="61.82" y="1024.9" font-size="26.5" text-anchor="end" fill="#4d4d4d">10</text>
<text x="61.82" y="1014.2" font-size="18.5" fill="#4d4d4d">−1</text>
<text x="61.82" y="1213.4" font-size="26.5" text-anchor="end" fill="#4d4d4d">10</text>
<text x="61.82" y="1202.7" font-size="18.5" fill="#4d4d4d">−2</text>
<text x="61.82" y="1401.9" font-size="26.5" text-anchor="end" fill="#4d4d4d">10</text>
<text x="61.82" y="1391.2" font-size="18.5" fill="#4d4d4d">−3</text>
<text x="860.25" y="1376.15" font-size="26.5" text-anchor="end" fill="#4d4d4d">10</text>
<text x="860.25" y="1365.45" font-size="18.5" fill="#4d4d4d">0</text>
<text x="846.38" y="1234.15" font-size="26.5" text-anchor="end" fill="#4d4d4d">10</text>
<text x="846.38" y="1223.45" font-size="18.5" fill="#4d4d4d">0.5</text>
<text x="860.25" y="1092.15" font-size="26.5" text-anchor="end" fill="#4d4d4d">10</text>
<text x="860.25" y="1081.45" font-size="18.5" fill="#4d4d4d">1</text>
<text x="846.38" y="950.15" font-size="26.5" text-anchor="end" fill="#4d4d4d">10</text>
<text x="846.38" y="939.45" font-size="18.5" fill="#4d4d4d">1.5</text>
<text x="96.88" y="677" font-size="26.5" fill="#4d4d4d">10</text>
<text x="123.38" y="666.3" font-size="18.5" fill="#4d4d4d">0</text>
<text x="227.69" y="677" font-size="26.5" fill="#4d4d4d">10</text>
<text x="254.19" y="666.3" font-size="18.5" fill="#4d4d4d">0.5</text>
<text x="372.38" y="677" font-size="26.5" fill="#4d4d4d">10</text>
<text x="398.88" y="666.3" font-size="18.5" fill="#4d4d4d">1</text>
<text x="503.19" y="677" font-size="26.5" fill="#4d4d4d">10</text>
<text x="529.69" y="666.3" font-size="18.5" fill="#4d4d4d">1.5</text>
<text x="647.88" y="677" font-size="26.5" fill="#4d4d4d">10</text>
<text x="674.38" y="666.3" font-size="18.5" fill="#4d4d4d">2</text>
<text x="881.52" y="677" font-size="26.5" fill="#4d4d4d">10</text>
<text x="908.02" y="666.3" font-size="18.5" fill="#4d4d4d">0</text>
<text x="1027.29" y="677" font-size="26.5" fill="#4d4d4d">10</text>
<text x="1053.79" y="666.3" font-size="18.5" fill="#4d4d4d">0.5</text>
<text x="1186.92" y="677" font-size="26.5" fill="#4d4d4d">10</text>
<text x="1213.42" y="666.3" font-size="18.5" fill="#4d4d4d">1</text>
<text x="1332.69" y="677" font-size="26.5" fill="#4d4d4d">10</text>
<text x="1359.19" y="666.3" font-size="18.5" fill="#4d4d4d">1.5</text>
<text x="96.88" y="1418.5" font-size="26.5" fill="#4d4d4d">10</text>
<text x="123.38" y="1407.8" font-size="18.5" fill="#4d4d4d">0</text>
<text x="251.04" y="1418.5" font-size="26.5" fill="#4d4d4d">10</text>
<text x="277.54" y="1407.8" font-size="18.5" fill="#4d4d4d">0.5</text>
<text x="419.07" y="1418.5" font-size="26.5" fill="#4d4d4d">10</text>
<text x="445.57" y="1407.8" font-size="18.5" fill="#4d4d4d">1</text>
<text x="573.24" y="1418.5" font-size="26.5" fill="#4d4d4d">10</text>
<text x="599.74" y="1407.8" font-size="18.5" fill="#4d4d4d">1.5</text>
<text x="884.73" y="1418.6" font-size="26.5" fill="#4d4d4d">10</text>
<text x="911.23" y="1407.9" font-size="18.5" fill="#4d4d4d">0</text>
<text x="1037.99" y="1418.6" font-size="26.5" fill="#4d4d4d">10</text>
<text x="1064.49" y="1407.9" font-size="18.5" fill="#4d4d4d">0.5</text>
<text x="1205.12" y="1418.6" font-size="26.5" fill="#4d4d4d">10</text>
<text x="1231.62" y="1407.9" font-size="18.5" fill="#4d4d4d">1</text>
<text x="1358.39" y="1418.6" font-size="26.5" fill="#4d4d4d">10</text>
<text x="1384.89" y="1407.9" font-size="18.5" fill="#4d4d4d">1.5</text>
<text transform="translate(400,704.6) scale(0.964,1)" font-size="34" text-anchor="middle" fill="#000">All degree</text>
<text transform="translate(1185.3,704.7) scale(0.954,1)" font-size="34" text-anchor="middle" fill="#000">In−degree</text>
<text transform="translate(400.35,1445.5) scale(0.961,1)" font-size="34" text-anchor="middle" fill="#000">Out−degree</text>
<text transform="translate(1186.25,1445.7) scale(0.966,1)" font-size="34" text-anchor="middle" fill="#000">Out−degree</text>
<text transform="translate(28.6,357.7) rotate(-90) scale(0.973,1)" font-size="34" text-anchor="middle" fill="#000">P(k)</text>
<text transform="translate(813.6,357.7) rotate(-90) scale(0.973,1)" font-size="34" text-anchor="middle" fill="#000">P(k)</text>
<text transform="translate(28.6,1098.6) rotate(-90) scale(0.973,1)" font-size="34" text-anchor="middle" fill="#000">P(k)</text>
<text transform="translate(813,1098.45) rotate(-90) scale(0.96,1)" font-size="34" text-anchor="middle" fill="#000">In−degree</text>
<text x="1" y="32" font-size="42" fill="#000">a</text>
<text x="783" y="32" font-size="42" fill="#000">b</text>
<text x="0.8" y="772.5" font-size="43.5" fill="#000">c</text>
<text x="785.8" y="773.9" font-size="42" fill="#000">d</text>
<text x="283.8" y="589.7" fill="#e60012"><tspan font-size="43">K</tspan><tspan font-size="28">min</tspan></text>
<rect x="365.8" y="574.1" width="19.2" height="1.3" fill="#e60012"/>
<rect x="365.8" y="580.3" width="19.2" height="1.3" fill="#e60012"/>
<text x="394.4" y="589.7" font-size="37.5" fill="#e60012">20</text>
<text x="990.4" y="590.7" fill="#e60012"><tspan font-size="43">K</tspan><tspan font-size="28">min</tspan></text>
<rect x="1072.1" y="575.1" width="18.9" height="1.3" fill="#e60012"/>
<rect x="1072.1" y="581.1" width="18.9" height="1.3" fill="#e60012"/>
<text x="1099.7" y="590.7" font-size="37.5" fill="#e60012">7</text>
<text x="291.2" y="1329.9" fill="#e60012"><tspan font-size="43">K</tspan><tspan font-size="28">min</tspan></text>
<rect x="372.7" y="1314" width="19.3" height="1.3" fill="#e60012"/>
<rect x="372.7" y="1320" width="19.3" height="1.3" fill="#e60012"/>
<text x="401.4" y="1329.9" font-size="37.5" fill="#e60012">14</text>
</svg>
</body></html>
